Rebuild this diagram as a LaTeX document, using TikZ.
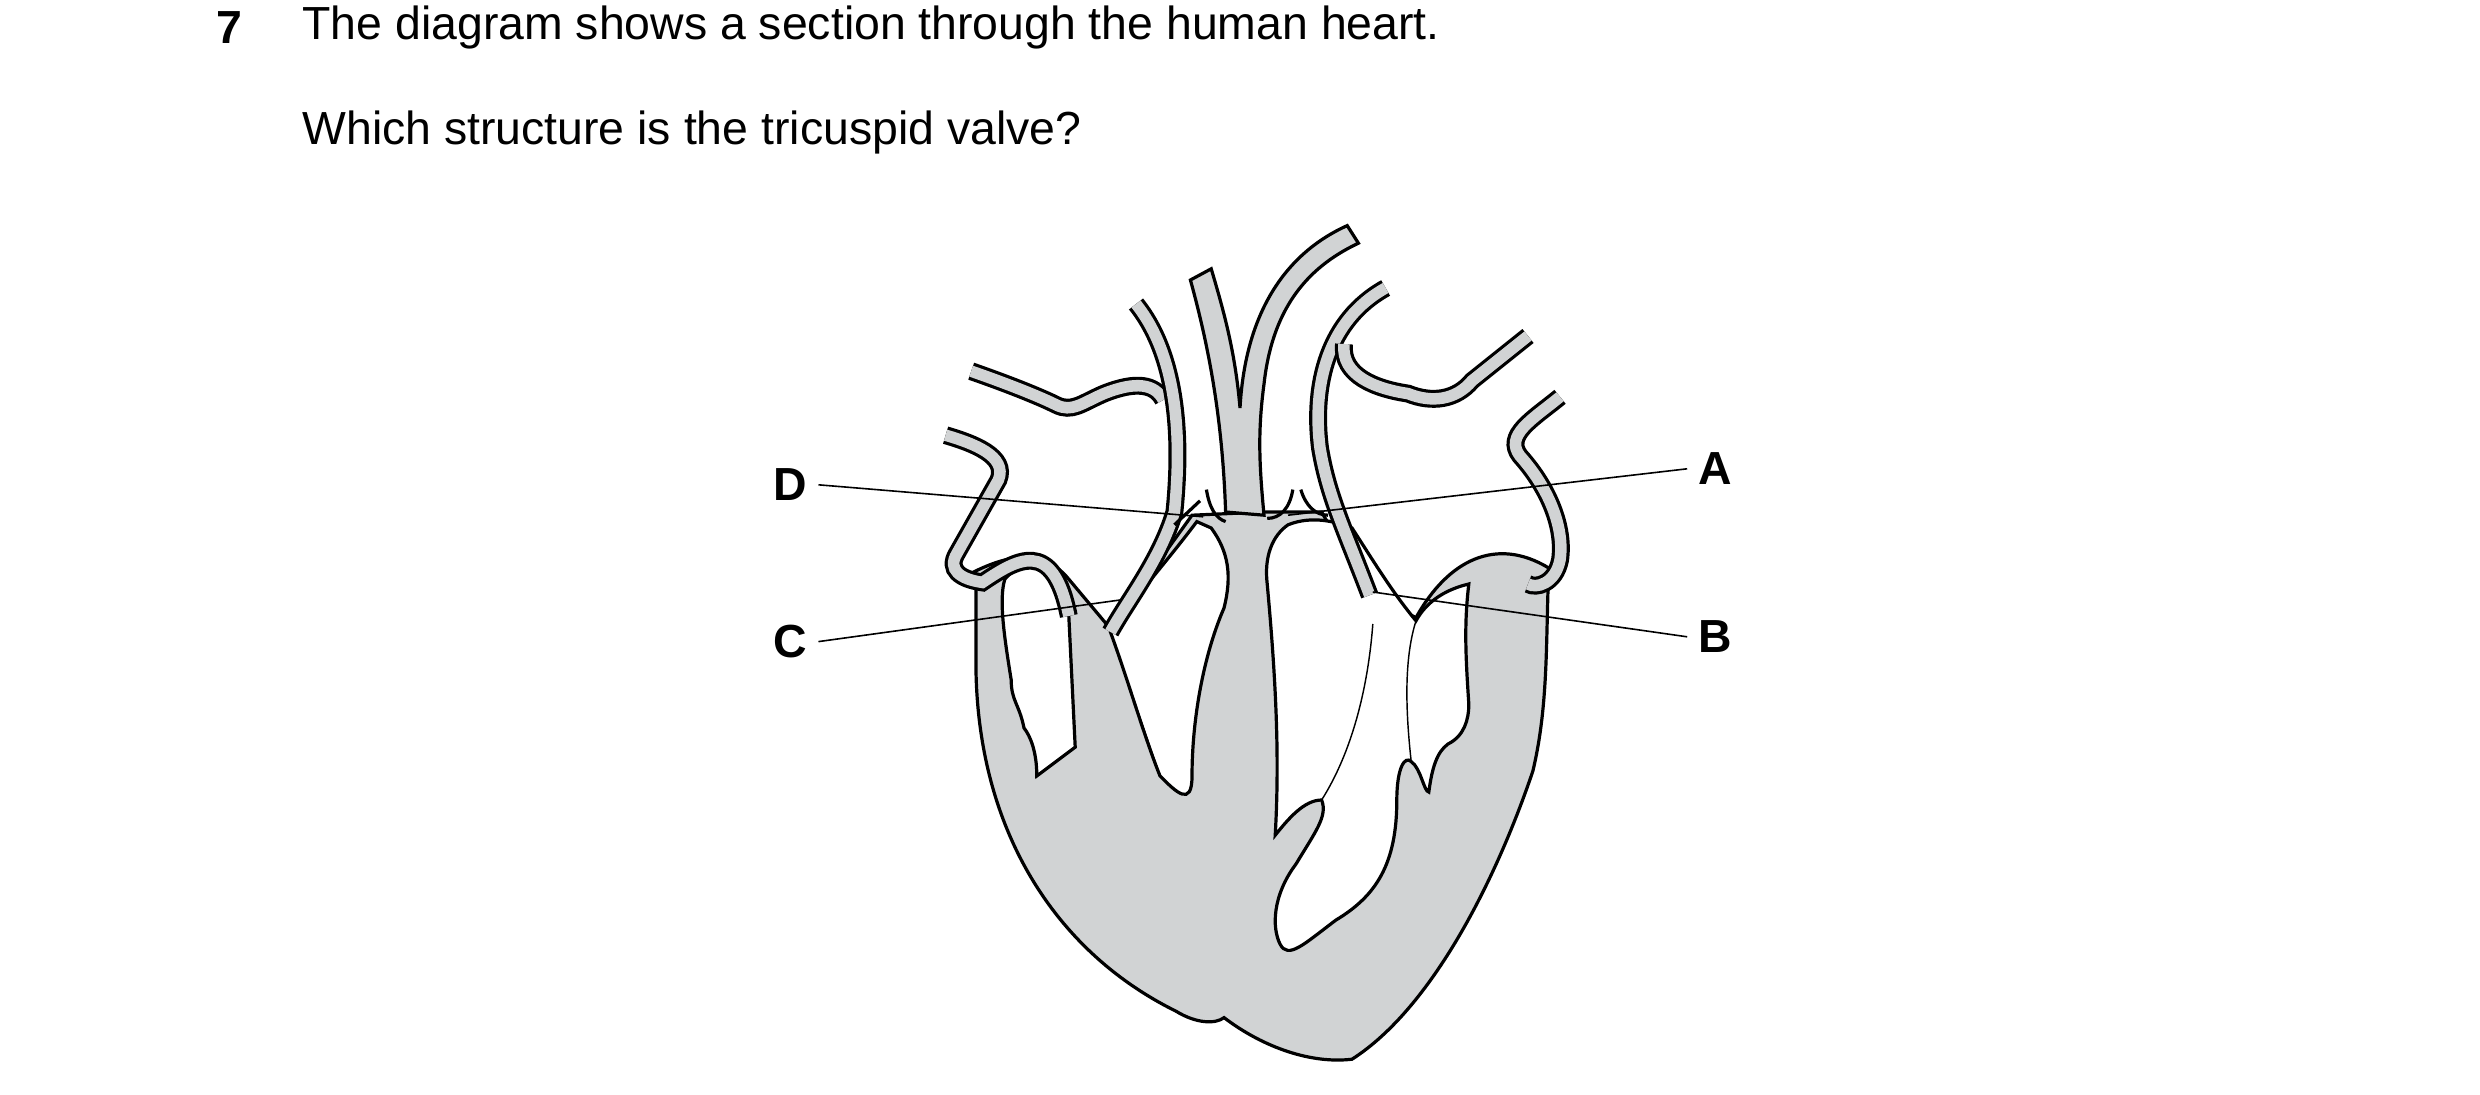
\documentclass[tikz,border=0pt]{standalone}
\usepackage{fontspec}
\setmainfont{Liberation Sans}
\definecolor{heartgray}{RGB}{209,211,212}
\tikzset{
  wall/.style={draw=black,line width=1pt,fill=heartgray},
  cavity/.style={draw=black,line width=1pt,fill=white},
  tube/.style={draw=black,line width=1pt,double=heartgray,double distance=3.6pt},
  chord/.style={draw=black,line width=0.45pt},
  pointer/.style={draw=black,line width=0.5pt},
  letter/.style={font=\fontsize{14.5}{17}\selectfont\bfseries},
  question/.style={font=\fontsize{14.5}{17}\selectfont,anchor=west}
}
\begin{document}
\begin{tikzpicture}[x=0.5pt,y=-0.5pt]
\useasboundingbox (0,0) rectangle (1550,684);
% question text
\node[question,font=\fontsize{14.5}{17}\selectfont\bfseries] (num) at (128,17) {7};
\node[question] (q1) at (182,17) {The diagram shows a section through the human heart.};
\node[question] (q2) at (182,83) {Which structure is the tricuspid valve?};
% heart wall
\path[wall] (600,362) .. controls (625,348) and (650,340) .. (668,362)
  -- (694,393) -- (745,322) -- (790,320) -- (826,320) -- (856,372) -- (885,386)
  .. controls (905,350) and (935,335) .. (968,355)
  .. controls (966,400) and (968,440) .. (958,482)
  .. controls (935,550) and (895,630) .. (845,662)
  .. controls (820,665) and (790,655) .. (765,636)
  .. controls (760,640) and (748,640) .. (735,632)
  .. controls (660,595) and (612,520) .. (610,420) -- (610,366) -- cycle;
% cavities
\path[cavity] (628,362) .. controls (640,348) and (660,345) .. (668,385)
  -- (672,467) -- (648,485) .. controls (648,470) and (644,460) .. (640,455)
  .. controls (637,440) and (632,438) .. (632,425)
  .. controls (628,400) and (624,375) .. (628,362) -- cycle;
\path[cavity] (694,395) .. controls (705,425) and (715,460) .. (725,485)
  .. controls (735,495) and (745,505) .. (745,485)
  .. controls (745,450) and (752,410) .. (765,380)
  .. controls (770,360) and (768,345) .. (757,330) -- (748,326)
  .. controls (730,350) and (712,370) .. (694,395) -- cycle;
\path[cavity] (805,328) .. controls (795,335) and (790,348) .. (792,365)
  .. controls (797,420) and (800,470) .. (797,522)
  .. controls (805,512) and (815,500) .. (826,500)
  .. controls (830,510) and (822,520) .. (810,540)
  .. controls (795,560) and (795,580) .. (800,590)
  .. controls (805,600) and (815,590) .. (835,575)
  .. controls (860,560) and (873,540) .. (873,500)
  .. controls (873,480) and (878,472) .. (882,476)
  .. controls (888,480) and (890,495) .. (893,495)
  .. controls (895,480) and (898,470) .. (905,465)
  .. controls (915,460) and (918,450) .. (918,440)
  .. controls (916,410) and (915,390) .. (918,365)
  .. controls (905,368) and (892,375) .. (885,388)
  .. controls (870,370) and (858,350) .. (845,330)
  .. controls (835,326) and (820,322) .. (805,328) -- cycle;
% chordae
\draw[chord] (672,465) -- (668,385);
\draw[chord] (725,485) -- (694,395);
\draw[chord] (826,500) .. controls (845,470) and (855,430) .. (858,390);
\draw[chord] (882,476) .. controls (878,440) and (878,410) .. (885,388);
% vessels
\draw[tube] (591,272) .. controls (608,277) and (630,285) .. (624,300)
  -- (598,346) .. controls (592,356) and (600,362) .. (614,364)
  .. controls (635,350) and (658,335) .. (668,385);
\draw[tube] (607,232) .. controls (630,240) and (650,248) .. (660,253)
  .. controls (670,258) and (676,252) .. (690,246)
  .. controls (710,238) and (722,240) .. (727,250);
\draw[tube] (710,190) .. controls (738,225) and (738,280) .. (734,320)
  .. controls (725,350) and (705,375) .. (694,395);
\draw[tube] (866,180) .. controls (830,200) and (820,240) .. (825,280)
  .. controls (830,310) and (840,330) .. (856,372);
\draw[tube] (840,215) .. controls (838,235) and (860,243) .. (880,246)
  .. controls (895,252) and (910,250) .. (920,238) -- (955,210);
\draw[tube] (975,248) .. controls (958,262) and (940,272) .. (950,285)
  .. controls (968,305) and (978,330) .. (975,350)
  .. controls (972,365) and (960,368) .. (955,365);
% central column
\path[wall] (744,175) .. controls (755,215) and (764,260) .. (766,320)
  -- (790,322) .. controls (787,290) and (786,270) .. (790,240)
  .. controls (795,195) and (815,168) .. (849,152) -- (842,141)
  .. controls (800,160) and (778,200) .. (775,255)
  .. controls (772,220) and (765,195) .. (757,168) -- cycle;
% valve cusps
\draw[line width=1pt] (734,328) -- (750,313);
\draw[line width=1pt] (754,306) .. controls (756,318) and (760,324) .. (766,326);
\draw[line width=1pt] (808,306) .. controls (806,318) and (800,324) .. (792,324);
\draw[line width=1pt] (813,306) .. controls (816,316) and (822,322) .. (830,322);
% labels
\node[letter] (D) at (494,303) {D};
\node[letter] (C) at (494,401) {C};
\node[letter] (A) at (1072,293) {A};
\node[letter] (B) at (1072,398) {B};
\coordinate (d) at (752,323);
\coordinate (c) at (700,375);
\coordinate (a) at (805,322);
\coordinate (b) at (858,370);
\draw[pointer] (D.east) -- (d);
\draw[pointer] (C.east) -- (c);
\draw[pointer] (A.west) -- (a);
\draw[pointer] (B.west) -- (b);
\end{tikzpicture}
\end{document}
